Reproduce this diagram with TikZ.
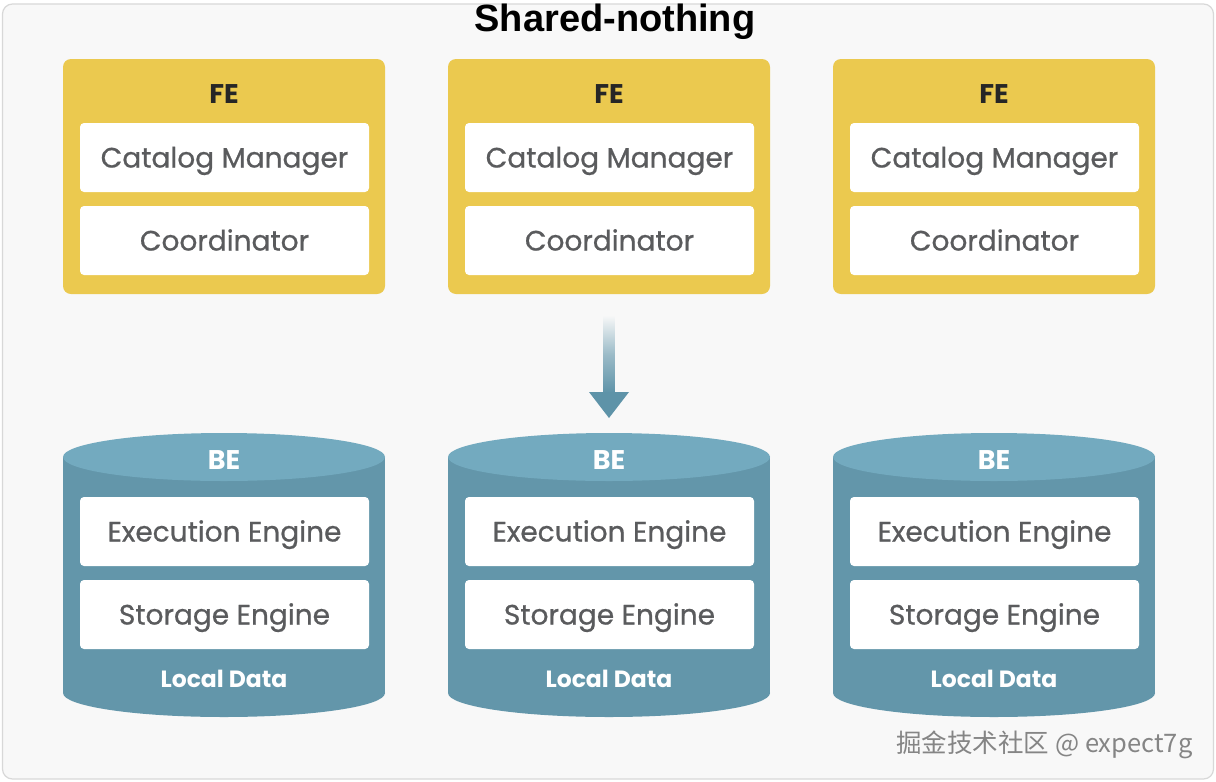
\documentclass[tikz,border=0pt]{standalone}
\usepackage{fontspec}
\setmainfont{Poppins}
\newfontfamily\medfont[FakeBold=0.7]{Poppins}
\newfontfamily\titlefont{Liberation Sans}
\newfontfamily\cjk{Noto Sans CJK SC}
\usetikzlibrary{calc}
\definecolor{bgc}{HTML}{F8F8F8}
\definecolor{framec}{HTML}{D8D8D8}
\definecolor{fey}{HTML}{EBC94F}
\definecolor{txtc}{HTML}{5A5B5D}
\definecolor{bebody}{HTML}{6396AA}
\definecolor{becap}{HTML}{73AABF}
\definecolor{arrowc}{HTML}{5E93A8}
\definecolor{wmc}{HTML}{858585}
\tikzset{
  febox/.style={fill=fey, rounded corners=8pt, minimum width=322pt, minimum height=235pt, inner sep=0pt},
  inbox/.style={fill=white, rounded corners=4pt, minimum width=289pt, minimum height=69pt, inner sep=0pt,
    text=txtc, font=\medfont\fontsize{28}{32}\selectfont, text height=20pt, text depth=0pt},
  fetitle/.style={text=black!85, font=\bfseries\fontsize{27}{30}\selectfont, text height=19pt, text depth=0pt},
  betitle/.style={text=white, font=\bfseries\fontsize{27}{30}\selectfont, text height=19pt, text depth=0pt},
  ldtitle/.style={text=white, font=\bfseries\fontsize{23.5}{26}\selectfont, text height=16pt, text depth=0pt},
}
\newcommand{\fegroup}[2]{%
  \node[febox] (fe#1) at (#2,176.5) {};
  \node[fetitle] (fet#1) at (#2,94) {FE};
  \node[inbox] (cm#1) at (#2+0.5,157.5) {Catalog Manager};
  \node[inbox] (co#1) at (#2+0.5,240.5) {Coordinator};
}
\newcommand{\begroup}[2]{%
  \fill[bebody] (#2-161,457) rectangle (#2+161,693);
  \fill[bebody] (#2,693) ellipse [x radius=161, y radius=24];
  \fill[becap] (#2,457) ellipse [x radius=161, y radius=24];
  \coordinate (betop#1) at (#2,433);
  \node[betitle] (bet#1) at (#2,460) {BE};
  \node[inbox] (ee#1) at (#2+0.5,531.5) {Execution Engine};
  \node[inbox] (se#1) at (#2+0.5,614.5) {Storage Engine};
  \node[ldtitle] (ld#1) at (#2,679) {Local Data};
}
\begin{document}
\begin{tikzpicture}[x=1pt,y=-1pt]
\useasboundingbox (0,0) rectangle (1216,782);
\fill[white] (0,0) rectangle (1216,782);
\draw[framec, fill=bgc, line width=1.2pt, rounded corners=10pt] (2.5,4) rectangle (1213.5,779);
\node[font=\titlefont\bfseries\fontsize{38}{42}\selectfont, text=black] (title) at (615,22) {Shared-nothing};
\fegroup{1}{224}
\fegroup{2}{609}
\fegroup{3}{994}
\begroup{1}{224}
\begroup{2}{609}
\begroup{3}{994}
% arrow
\coordinate (as) at ($(fe2.south)+(0,21)$);
\coordinate (ah) at ($(betop2)+(0,-41)$);
\coordinate (ae) at ($(betop2)+(0,-15)$);
\shade[top color=bgc, bottom color=arrowc, middle color=arrowc!60!bgc] ($(as)+(-5.5,0)$) rectangle ($(ah)+(5.5,1)$);
\fill[arrowc] ($(ah)+(-20,0)$) -- ($(ah)+(20,0)$) -- (ae) -- cycle;
\node[font=\cjk\fontsize{25.5}{28}\selectfont, text=wmc, anchor=east] (wm) at (1196,745) {掘金技术社区 @ expect7g};
\end{tikzpicture}
\end{document}
